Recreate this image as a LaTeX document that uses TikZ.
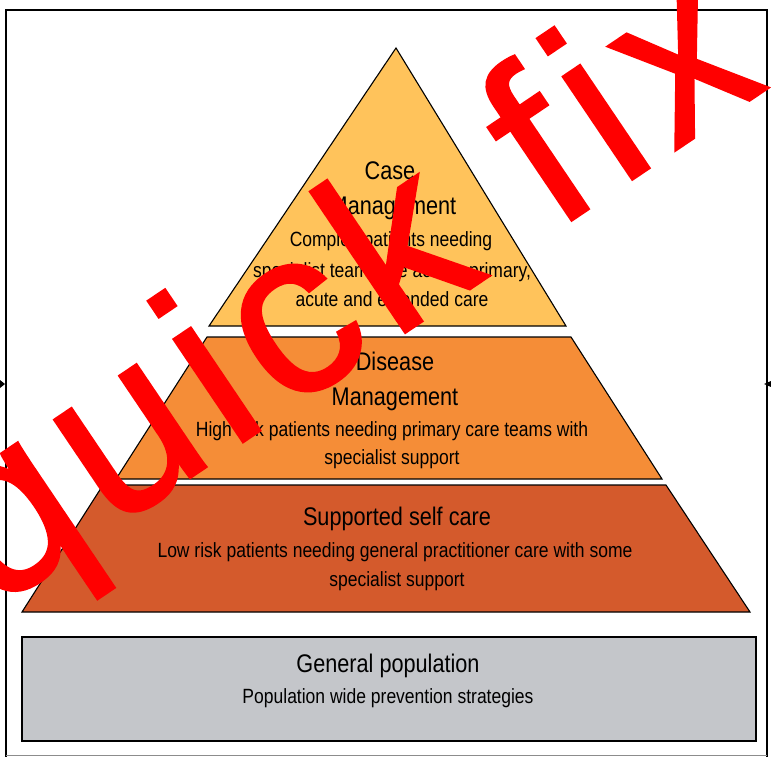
\documentclass[tikz,border=0pt]{standalone}
\usepackage{fontspec}
\setmainfont{Liberation Sans}[FakeStretch=0.85]
\newfontfamily\wmfont{Liberation Sans}[LetterSpace=5.5, FakeBold=1]
\definecolor{cTop}{RGB}{255,195,91}
\definecolor{cMid}{RGB}{245,141,55}
\definecolor{cBot}{RGB}{212,90,44}
\definecolor{cGray}{RGB}{196,198,202}
\tikzset{
  layer/.style={draw=black, line width=1.1pt, line join=miter},
  ttl/.style={anchor=base, inner sep=0pt, font=\fontsize{25.5}{30}\selectfont},
  bdy/.style={anchor=base, inner sep=0pt, font=\fontsize{20.6}{24}\selectfont},
}
\begin{document}
\begin{tikzpicture}[x=1pt,y=-1pt]
\useasboundingbox (0,0) rectangle (771,757);
\fill[white] (0,0) rectangle (771,757);
% frame
\draw[line width=1.6pt] (6,757) -- (6,10) -- (767,10) -- (767,757);
\draw[black!45, line width=1pt] (6,755) -- (767,755);
\fill (0,380) -- (5,384) -- (0,388) -- cycle;
\fill (764,384) -- (771,381) -- (771,387) -- cycle;
% layers
\filldraw[layer, fill=cTop] (396,48) -- (566,326) -- (209,326) -- cycle;
\filldraw[layer, fill=cMid] (207,337) -- (571,337) -- (662,479) -- (116,479) -- cycle;
\filldraw[layer, fill=cBot] (103,485) -- (666,485) -- (750,612) -- (22,612) -- cycle;
\filldraw[layer, fill=cGray] (22,637) rectangle (756,741);
% texts top
\node[ttl] (caseA) at (390,179.5) {Case};
\node[ttl] (caseB) at (393,214.5) {Management};
\node[bdy] (caseC) at (391,246) {Complex patients needing};
\node[bdy] (caseD) at (392,277) {specialist team care across primary,};
\node[bdy] (caseE) at (392,306) {acute and extended care};
% middle
\node[ttl] (disA) at (395,370.5) {Disease};
\node[ttl] (disB) at (395,405.5) {Management};
\node[bdy] (disC) at (392,436) {High risk patients needing primary care teams with};
\node[bdy] (disD) at (392,464) {specialist support};
% bottom
\node[ttl] (supA) at (397,525.5) {Supported self care};
\node[bdy] (supB) at (395,557) {Low risk patients needing general practitioner care with some};
\node[bdy] (supC) at (397,586) {specialist support};
% general
\node[ttl] (genA) at (388,672.5) {General population};
\node[bdy] (genB) at (388,703) {Population wide prevention strategies};
% overlay
\node[rotate=34, anchor=base west, text=red, inner sep=0pt,
      font=\wmfont\fontsize{235}{235}\selectfont] (wm) at (-8,611.5) {quick fix};
\end{tikzpicture}
\end{document}
